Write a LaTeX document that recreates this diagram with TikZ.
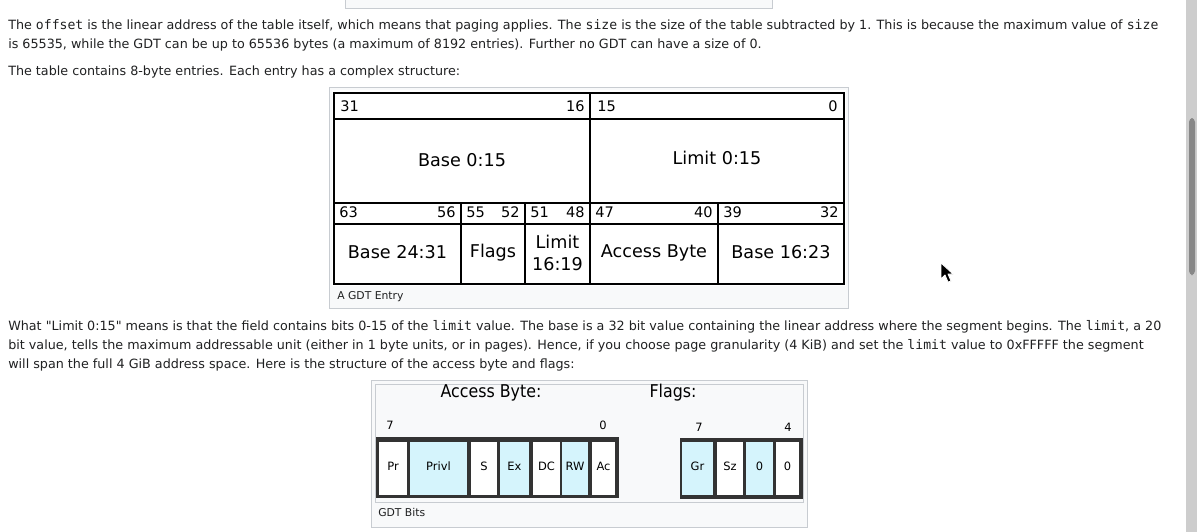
\documentclass[tikz,border=0pt]{standalone}
\usepackage{fontspec}
\setmainfont{DejaVu Sans}
\setmonofont[Scale=1.03]{DejaVu Sans Mono}
\newfontfamily\condfont[FakeStretch=0.9]{DejaVu Sans}
\definecolor{textcol}{HTML}{202122}
\definecolor{framegray}{HTML}{C8CCD1}
\definecolor{framebg}{HTML}{F8F9FA}
\definecolor{bitblue}{HTML}{D5F4FC}
\definecolor{bitdark}{HTML}{333333}
\definecolor{scrolltrack}{HTML}{CDCDCD}
\definecolor{scrollthumb}{HTML}{878787}
\tikzset{
  para/.style={anchor=base west, inner sep=0pt, text=textcol, font=\fontsize{9.55}{12}\selectfont},
  caption/.style={anchor=base west, inner sep=0pt, text=textcol, font=\fontsize{8.1}{10}\selectfont},
  bitno/.style={inner sep=0pt, font=\fontsize{10.9}{13}\selectfont},
  field/.style={inner sep=0pt, align=center, font=\fontsize{13.2}{16.5}\selectfont},
  heading/.style={inner sep=0pt, font=\condfont\fontsize{13.2}{15}\selectfont},
  smallno/.style={inner sep=0pt, font=\fontsize{8.6}{10}\selectfont},
  bitlabel/.style={inner sep=0pt, font=\fontsize{8.6}{10}\selectfont}
}
\begin{document}
\begin{tikzpicture}[x=0.75pt, y=-0.75pt]
    \useasboundingbox (0,0) rectangle (1197,532);
    \fill[white] (0,0) rectangle (1197,532);

    % Bottom of the previous figure
    \draw[framegray, fill=framebg] (345.5,-2) rectangle (772.5,8.5);

    % First paragraph
    \node[para] (p1) at (8,29) {The \texttt{offset} is the linear address of the table itself, which means that paging applies. The \texttt{size} is the size of the table subtracted by 1. This is because the maximum value of \texttt{size}};
    \node[para] (p2) at (8,48) {is 65535, while the GDT can be up to 65536 bytes (a maximum of 8192 entries). Further no GDT can have a size of 0.};
    \node[para] (p3) at (8,75) {The table contains 8-byte entries. Each entry has a complex structure:};

    % GDT entry figure
    \draw[framegray, fill=framebg] (329.5,87.5) rectangle (848.5,308.5);
    \fill[white] (332,90) rectangle (846,286);
    \draw[line width=0.9pt] (334,119) -- (844,119);
    \draw[line width=0.9pt] (334,203) -- (844,203);
    \draw[line width=0.9pt] (334,224) -- (844,224);
    \draw[line width=0.9pt] (590,93) -- (590,284);
    \foreach \xv in {461,525,718}
        \draw[line width=0.9pt] (\xv,203) -- (\xv,284);
    \draw[line width=1.6pt] (334,93) rectangle (844,284);

    % Bit numbers of the upper half
    \node[bitno, anchor=base west] (n31) at (340,111) {31};
    \node[bitno, anchor=base east] (n16) at (585,111) {16};
    \node[bitno, anchor=base west] (n15) at (597,111) {15};
    \node[bitno, anchor=base east] (n0) at (838,111) {0};
    \node[field] (base015) at (462,160) {Base 0:15};
    \node[field] (limit015) at (717,158) {Limit 0:15};

    % Bit numbers and fields of the lower half
    \foreach \l/\r/\hi/\lo/\txt [count=\i] in {
        334/461/63/56/{Base 24:31},
        461/525/55/52/{Flags},
        525/590/51/48/{Limit\\16:19},
        590/718/47/40/{Access Byte},
        718/844/39/32/{Base 16:23}} {
        \node[bitno, anchor=base west] (hi\i) at (\l+5,217) {\hi};
        \node[bitno, anchor=base east] (lo\i) at (\r-5,217) {\lo};
        \node[field] (fld\i) at ({(\l+\r)/2},252.5) {\txt};
    }
    \node[caption] (cap1) at (337,299) {A GDT Entry};

    % Second paragraph
    \node[para] (q1) at (8,330) {What \textquotedbl Limit 0:15\textquotedbl{} means is that the field contains bits 0-15 of the \texttt{limit} value. The base is a 32 bit value containing the linear address where the segment begins. The \texttt{limit}, a 20};
    \node[para] (q2) at (8,349) {bit value, tells the maximum addressable unit (either in 1 byte units, or in pages). Hence, if you choose page granularity (4 KiB) and set the \texttt{limit} value to 0xFFFFF the segment};
    \node[para] (q3) at (8,368) {will span the full 4 GiB address space. Here is the structure of the access byte and flags:};

    % GDT bits figure
    \draw[framegray, fill=framebg] (371.5,380.5) rectangle (807.5,527.5);
    \draw[framegray, fill=framebg] (375.5,384.5) rectangle (803.5,502.5);
    \node[heading] (abhead) at (491,393) {Access Byte:};
    \node[heading] (flhead) at (673,393) {Flags:};
    \node[smallno] (ab7) at (390,425) {7};
    \node[smallno] (ab0) at (603,425) {0};
    \node[smallno] (fl7) at (699,427) {7};
    \node[smallno] (fl4) at (788,427) {4};

    % Access byte cells
    \fill[bitdark] (376,437) rectangle (619,498);
    \foreach \txt/\l/\r/\fc [count=\i] in {
        Pr/379/407/white, Privl/410/467/bitblue, S/471/497/white,
        Ex/500/529/bitblue, DC/533/560/white, RW/562/588/bitblue,
        Ac/592/615/white} {
        \fill[\fc] (\l,441.5) rectangle (\r,494.5);
        \node[bitlabel] (ab\i) at ({(\l+\r)/2},466) {\txt};
    }

    % Flags cells
    \fill[bitdark] (680,438) rectangle (803,499);
    \foreach \txt/\l/\r/\fc [count=\i] in {
        Gr/682/713/bitblue, Sz/717/743/white,
        0/746/773/bitblue, 0/776/799/white} {
        \fill[\fc] (\l,442) rectangle (\r,495);
        \node[bitlabel] (fl\i) at ({(\l+\r)/2},466) {\txt};
    }
    \node[caption] (cap2) at (378,516) {GDT Bits};

    % Mouse pointer
    \filldraw[black, draw=white, line width=0.6pt, line join=round]
        (941,263) -- (941,279) -- (945,275) -- (948,282) -- (951,281) -- (948,274) -- (953,274) -- cycle;

    % Scroll bar
    \fill[scrolltrack] (1186,0) rectangle (1197,532);
    \fill[scrollthumb, rounded corners=3pt] (1189,118) rectangle (1195,275);
\end{tikzpicture}
\end{document}
